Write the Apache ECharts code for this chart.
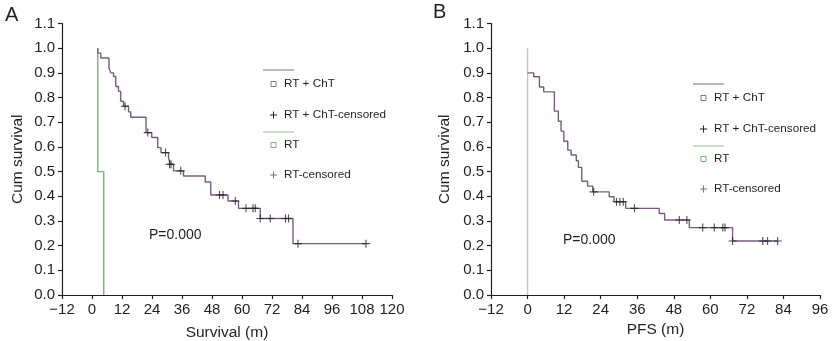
<!DOCTYPE html>
<html>
<head>
<meta charset="utf-8">
<title>Kaplan-Meier: survival and PFS</title>
<script src="https://cdn.jsdelivr.net/npm/echarts@6/dist/echarts.min.js"></script>
<style>
  html, body { margin: 0; padding: 0; background: #fff; }
  #chart { width: 832px; height: 341px; }
</style>
</head>
<body>
<div id="chart"></div>
<script>
// Panel A: overall survival (months, cumulative survival)
const survChemoSteps = [
  [2.3, 1.0], [2.3, 0.98], [3.5, 0.96], [6.8, 0.92], [7.5, 0.90], [8.6, 0.885],
  [9.5, 0.845], [10.6, 0.825], [11.5, 0.785], [12.6, 0.765], [14.6, 0.742],
  [15.5, 0.72], [21.6, 0.658], [23.9, 0.638], [26.3, 0.597], [27.6, 0.577],
  [30.6, 0.557], [31.3, 0.53], [32.6, 0.503], [36.6, 0.482], [45.3, 0.458],
  [47.5, 0.405], [54.4, 0.381], [58.6, 0.351], [67.3, 0.31], [80.4, 0.208],
  [109.6, 0.208]
];
const survChemoCensored = [
  [13.2, 0.765], [22.3, 0.658], [29.4, 0.577], [31.0, 0.53], [31.6, 0.53],
  [35.5, 0.503], [51.0, 0.405], [52.4, 0.405], [57.3, 0.381], [61.6, 0.351],
  [64.4, 0.351], [65.3, 0.351], [67.3, 0.31], [71.3, 0.31], [77.4, 0.31],
  [78.6, 0.31], [82.4, 0.208], [109.6, 0.208]
];
const survRtSteps = [[2.3, 1.0], [2.3, 0.5], [4.7, 0.5], [4.7, 0.0]];

// Panel B: progression-free survival
const pfsChemoSteps = [
  [0, 0.90], [2.0, 0.884], [3.9, 0.843], [5.3, 0.823], [8.8, 0.745],
  [10.1, 0.704], [11.0, 0.664], [11.9, 0.623], [13.2, 0.587], [14.3, 0.567],
  [16.0, 0.544], [16.7, 0.517], [17.8, 0.461], [19.7, 0.441], [21.4, 0.418],
  [26.8, 0.398], [28.4, 0.378], [32.2, 0.351], [43.2, 0.33], [45.0, 0.304],
  [53.1, 0.273], [67.3, 0.219], [82.1, 0.219]
];
const pfsChemoCensored = [
  [21.7, 0.418], [29.2, 0.378], [30.3, 0.378], [31.4, 0.378], [35.1, 0.351],
  [49.8, 0.304], [52.3, 0.304], [57.5, 0.273], [61.3, 0.273], [64.1, 0.273],
  [64.8, 0.273], [67.3, 0.219], [77.2, 0.219], [78.8, 0.219], [82.1, 0.219]
];
const pfsRtSteps = [[0, 1.0], [0, 0.0]];

// Axis setup
const yTicks = { min: 0, max: 1.1, interval: 0.1 };
const survTicks = { min: -12, max: 120, interval: 12 };
const pfsTicks = { min: -12, max: 96, interval: 12 };
const legendNames = ['RT + ChT', 'RT + ChT-censored', 'RT', 'RT-censored'];
const pValueText = 'P=0.000';

const FONT = '"Liberation Sans", Arial, Helvetica, sans-serif';
const INK = '#231f20';
const PURPLE = '#7a5c82';
const PURPLE_LIGHT = '#a48aaa';
const GREEN = '#6fb86f';
const GREEN_LIGHT = '#a9d3a9';
const CROSS = 'path://M0,5L10,5M5,0L5,10';

const chart = echarts.init(document.getElementById('chart'), null, { renderer: 'canvas' });

function xAxisFor(gridIndex, ticks, name, gap) {
  return {
    type: 'value', gridIndex, min: ticks.min, max: ticks.max, interval: ticks.interval,
    name, nameLocation: 'middle', nameGap: gap,
    nameTextStyle: { fontFamily: FONT, fontSize: 15.5, color: INK },
    axisLine: { onZero: false, lineStyle: { color: INK, width: 1.2 } },
    axisTick: { show: true, length: 4, lineStyle: { color: INK, width: 1.2 } },
    axisLabel: {
      margin: 7, fontFamily: FONT, fontSize: 15, color: INK,
      formatter: v => (v < 0 ? '\u2212' + Math.abs(v) : String(v))
    },
    splitLine: { show: false }
  };
}
function yAxisFor(gridIndex, gap) {
  return {
    type: 'value', gridIndex, min: yTicks.min, max: yTicks.max, interval: yTicks.interval,
    name: 'Cum survival', nameLocation: 'middle', nameGap: gap,
    nameTextStyle: { fontFamily: FONT, fontSize: 15.5, color: INK },
    axisLine: { show: true, onZero: false, lineStyle: { color: INK, width: 1.2 } },
    axisTick: { show: true, length: 4, lineStyle: { color: INK, width: 1.2 } },
    axisLabel: {
      margin: 7, fontFamily: FONT, fontSize: 15, color: INK,
      formatter: v => v.toFixed(1)
    },
    splitLine: { show: false }
  };
}
function stepLine(name, idx, data, color) {
  return {
    name, type: 'line', xAxisIndex: idx, yAxisIndex: idx, data, step: 'end',
    showSymbol: false, symbol: 'none', silent: true,
    lineStyle: { color, width: 1.4 }, z: 2
  };
}
function censorMarks(name, idx, data) {
  return {
    name, type: 'scatter', xAxisIndex: idx, yAxisIndex: idx, data,
    symbol: CROSS, symbolSize: 8, silent: true,
    itemStyle: { color: 'transparent', borderColor: '#222', borderWidth: 1.1 }, z: 3
  };
}

// Legend block drawn as graphics: line swatch, square key, cross key, labels
function legendBlock(x, y0) {
  const rows = [
    { kind: 'line', dy: 0, color: PURPLE_LIGHT },
    { kind: 'square', dy: 14, color: '#8a6d91', text: legendNames[0] },
    { kind: 'cross', dy: 45, color: '#222', text: legendNames[1] },
    { kind: 'line', dy: 62, color: GREEN_LIGHT },
    { kind: 'square', dy: 75, color: GREEN, text: legendNames[2] },
    { kind: 'cross', dy: 105, color: '#8a6a70', text: legendNames[3] }
  ];
  const out = [];
  rows.forEach(r => {
    const y = y0 + r.dy;
    if (r.kind === 'line') {
      out.push({ type: 'line', shape: { x1: x, y1: y, x2: x + 31, y2: y },
        style: { stroke: r.color, lineWidth: 1.3 } });
      return;
    }
    if (r.kind === 'square') {
      out.push({ type: 'rect', shape: { x: x + 8, y: y - 2.5, width: 5, height: 5 },
        style: { fill: '#fff', stroke: r.color, lineWidth: 1 } });
    } else {
      out.push({ type: 'line', shape: { x1: x + 7, y1: y, x2: x + 14, y2: y },
        style: { stroke: r.color, lineWidth: 1 } });
      out.push({ type: 'line', shape: { x1: x + 10.5, y1: y - 3.5, x2: x + 10.5, y2: y + 3.5 },
        style: { stroke: r.color, lineWidth: 1 } });
    }
    out.push({ type: 'text', x: x + 21, y,
      style: { text: r.text, font: '11.7px ' + FONT, fill: INK, verticalAlign: 'middle', align: 'left' } });
  });
  return out;
}

chart.setOption({
  animation: false,
  backgroundColor: '#fff',
  grid: [
    { left: 62, top: 23.5, width: 330, height: 271.5, outerBoundsMode: 'none' },
    { left: 491, top: 23.5, width: 329, height: 271.5, outerBoundsMode: 'none' }
  ],
  xAxis: [
    xAxisFor(0, survTicks, 'Survival (m)', 30),
    xAxisFor(1, pfsTicks, 'PFS (m)', 25)
  ],
  yAxis: [yAxisFor(0, 36), yAxisFor(1, 38)],
  series: [
    stepLine('RT', 0, survRtSteps, GREEN),
    stepLine('RT + ChT', 0, survChemoSteps, PURPLE),
    censorMarks('RT + ChT-censored', 0, survChemoCensored),
    stepLine('RT', 1, pfsRtSteps, GREEN_LIGHT),
    stepLine('RT + ChT', 1, pfsChemoSteps, PURPLE),
    censorMarks('RT + ChT-censored', 1, pfsChemoCensored)
  ],
  graphic: [
    { type: 'text', x: 5, y: 5, style: { text: 'A', font: '20px ' + FONT, fill: INK } },
    { type: 'text', x: 433, y: 2, style: { text: 'B', font: '20px ' + FONT, fill: INK } },
    { type: 'text', x: 149, y: 235, style: { text: pValueText, font: '14px ' + FONT, fill: INK, verticalAlign: 'middle' } },
    { type: 'text', x: 563, y: 240, style: { text: pValueText, font: '14px ' + FONT, fill: INK, verticalAlign: 'middle' } },
    ...legendBlock(263, 70),
    ...legendBlock(693, 84)
  ]
});
</script>
</body>
</html>
